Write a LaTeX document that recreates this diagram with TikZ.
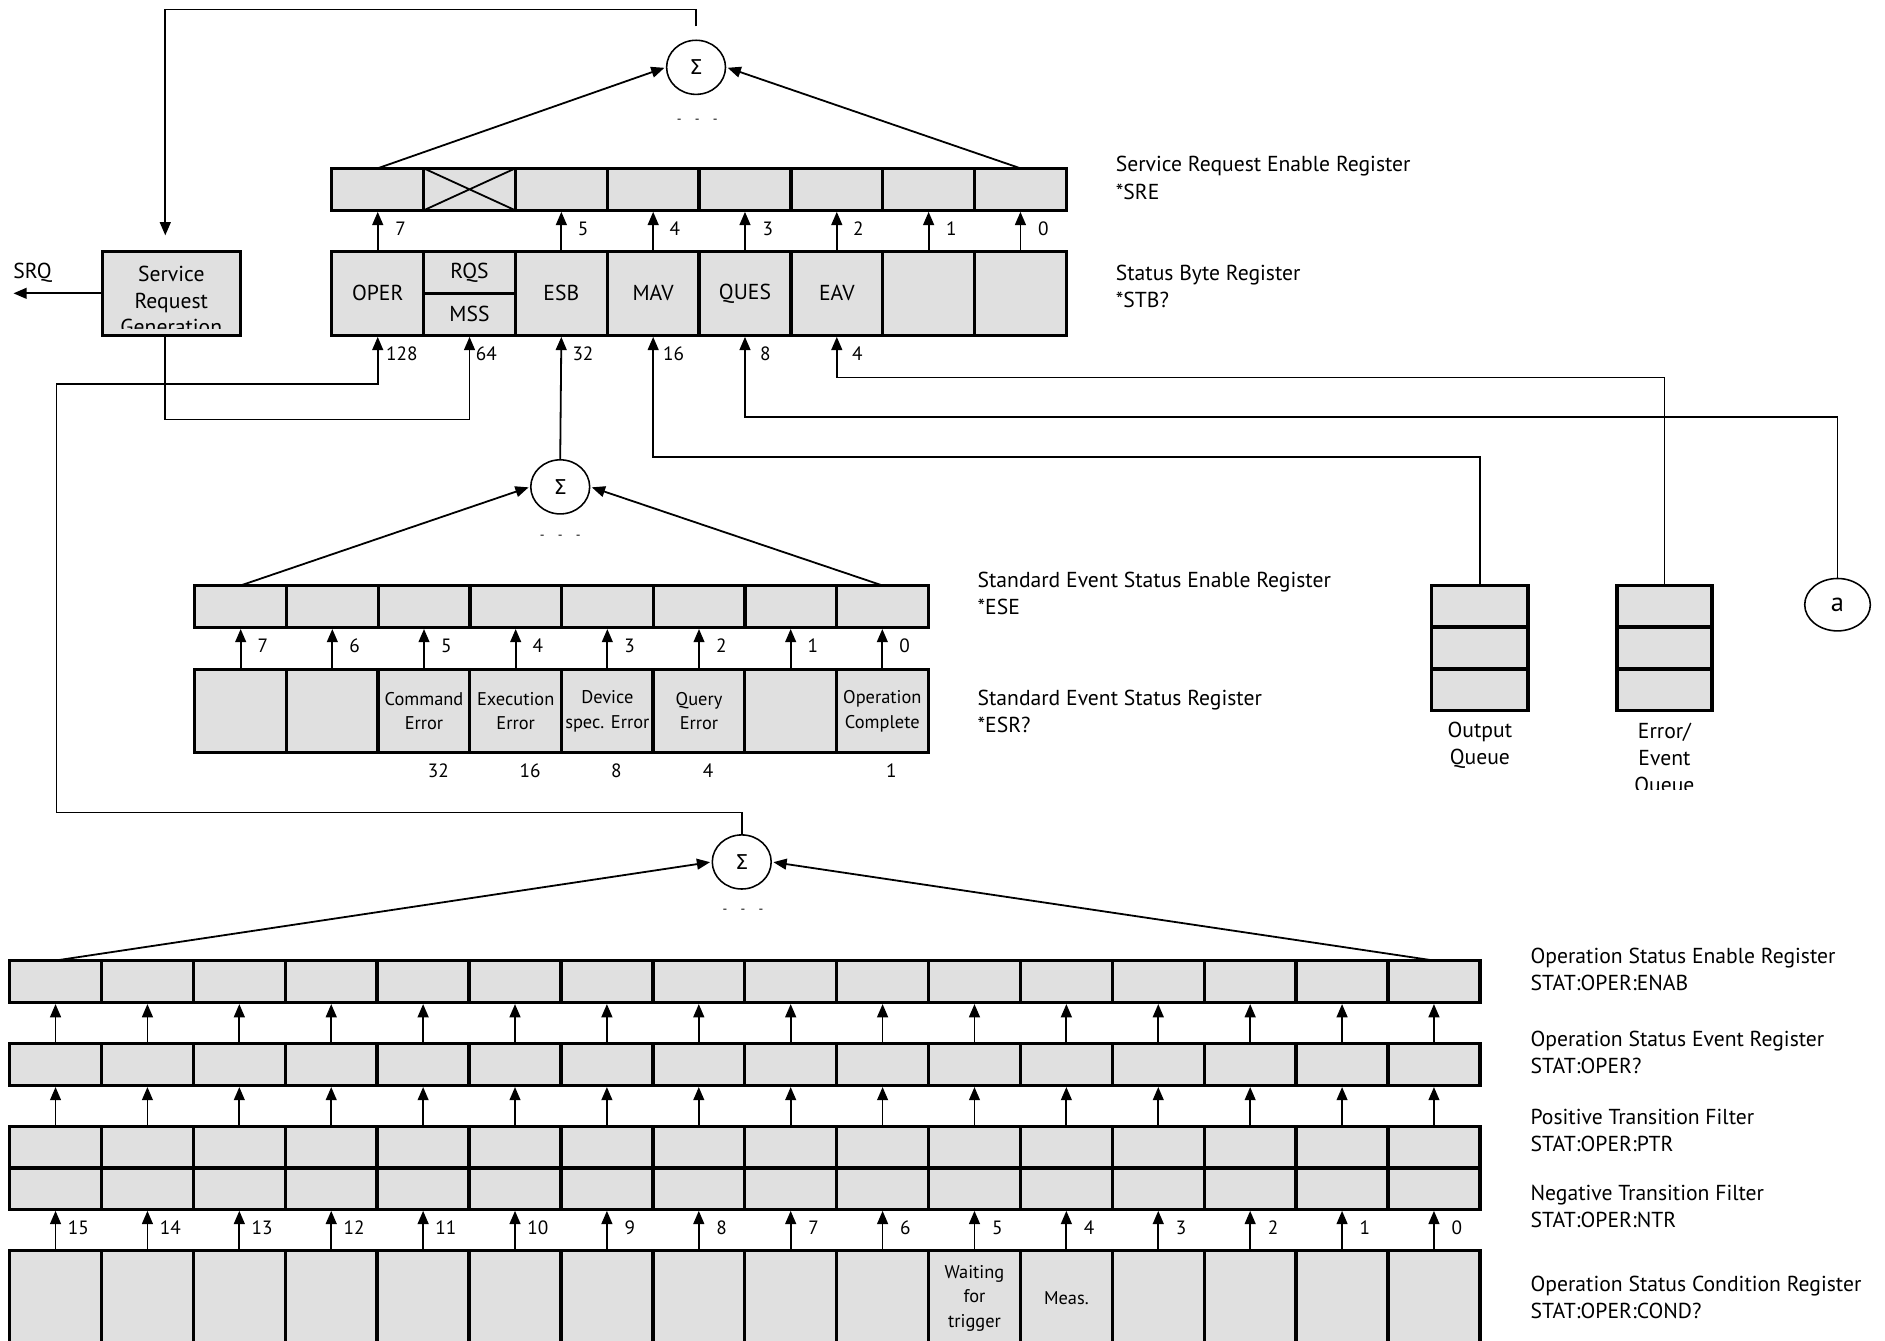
\documentclass[tikz,border=0pt]{standalone}
\usepackage{fontspec}
\setmainfont{PT Sans}
\newfontfamily\sigmafont{DejaVu Sans}
\usetikzlibrary{arrows.meta,calc,positioning,shapes.geometric}
\definecolor{cellgray}{RGB}{224,224,224}
\newcommand\regfont{\fontsize{18}{22}\selectfont}
\newcommand\smallfont{\fontsize{15.3}{20.5}\selectfont}
\newcommand\bitfont{\fontsize{16}{18}\selectfont}
\newcommand\lblfont{\fontsize{18}{22.5}\selectfont}

\tikzset{
  cell/.style={draw,line width=2.8pt,fill=cellgray,inner sep=0pt,outer sep=0pt,anchor=north west,
    minimum width=76.4pt,minimum height=35pt,align=center,font=\regfont},
  conn/.style={line width=1.5pt},
  bitarrow/.style={conn,-{Triangle[length=11pt,width=9pt]},shorten >=1.2pt},
  sumnode/.style={ellipse,draw,line width=1.3pt,minimum width=49pt,minimum height=45pt,inner sep=0pt,
    font=\sigmafont\fontsize{17}{19}\selectfont},
  reglabel/.style={anchor=west,align=left,inner sep=0pt,font=\lblfont},
  lbl/.style={inner sep=0pt,font=\lblfont},
  bitlabel/.style={inner sep=0pt,font=\bitfont},
  dotlabel/.style={inner sep=0pt,font=\fontsize{11}{12}\selectfont},
}

\begin{document}
\begin{tikzpicture}[x=1pt,y=-1pt]
  \useasboundingbox (0,0) rectangle (1568,1115);
  \clip (0,0) rectangle (1568,1115);

  % service request enable register and status byte
  \foreach \b in {0,...,7}
    \node[cell] (sre\b) at ({276+(7-\b)*76.375},140) {};
  \draw[conn] (sre6.north west) -- (sre6.south east) (sre6.north east) -- (sre6.south west);
  \foreach \b/\txt in {7/OPER,5/ESB,4/MAV,3/QUES,2/EAV,1/{},0/{}}
    \node[cell,minimum height=70pt] (stb\b) at ({276+(7-\b)*76.375},209) {\txt};
  \node[cell] (rqs) at (352.375,209) {RQS};
  \node[cell] (mss) at (352.375,244) {MSS};
  \foreach \b/\dx in {7/19,5/18,4/18,3/19,2/18,1/19,0/19} {
    \draw[bitarrow] (stb\b.north) -- (sre\b.south);
    \node[bitlabel] (srelbl\b) at ($(sre\b.south)+(\dx,15)$) {\b};
  }
  \node[sumnode] (sigS) at (579,56) {Σ};
  \draw[bitarrow] (sre7.north) -- (sigS.west);
  \draw[bitarrow] (sre0.north) -- (sigS.east);
  \node[dotlabel] (dotsS) at (580,101) {-\quad-\quad-};

  \node[reglabel] (lblsre) at (928,148) {Service Request Enable Register\\*SRE};
  \node[reglabel] (lblstb) at (928,238.5) {Status Byte Register\\*STB?};

  % service request generation
  \node[cell,minimum width=115pt,minimum height=70pt,
    path picture={\clip (path picture bounding box.north west) rectangle ([yshift=6pt]path picture bounding box.south east);
      \node[anchor=center,draw=none,fill=none,inner sep=0pt,align=center,font=\regfont]
      at ([yshift=-6pt]path picture bounding box.center) {Service\\Request\\Generation};}] (srg) at (85,209) {};
  \coordinate (srq) at (10,244);
  \draw[bitarrow] (srg.west) -- (srq);
  \node[lbl] (srqlbl) at (27,227) {SRQ};
  \draw[bitarrow] ([yshift=11pt]sigS.north) -- ++(0,-14) -| ([xshift=-5pt,yshift=12pt]srg.north);
  \draw[bitarrow] ([xshift=-5pt]srg.south) -- ++(0,70) -| (mss.south);

  % values of the status byte bits
  \node[bitlabel] (v128) at ($(stb7.south)+(20,15)$) {128};
  \node[bitlabel] (v64) at ($(mss.south)+(14,15)$) {64};
  \node[bitlabel] (v32) at ($(stb5.south)+(18,15)$) {32};
  \node[bitlabel] (v16) at ($(stb4.south)+(17,15)$) {16};
  \node[bitlabel] (v8) at ($(stb3.south)+(17,15)$) {8};
  \node[bitlabel] (v4) at ($(stb2.south)+(17,15)$) {4};

  % standard event status registers
  \foreach \b in {0,...,7}
    \node[cell] (ese\b) at ({162+(7-\b)*76.25},487) {};
  \foreach \b/\txt in {7/{},6/{},5/{Command\\Error},4/{Execution\\Error},3/{Device\\spec. Error},
      2/{Query\\Error},1/{},0/{Operation\\Complete}}
    \node[cell,minimum height=69pt,font=\smallfont] (esr\b) at ({162+(7-\b)*76.25},557) {\txt};
  \foreach \b in {0,...,7} {
    \draw[bitarrow] (esr\b.north) -- (ese\b.south);
    \node[bitlabel] (eselbl\b) at ($(ese\b.south)+(18.5,15)$) {\b};
  }
  \foreach \b/\val in {5/32,4/16,3/8,2/4,0/1}
    \node[bitlabel,anchor=west] (esrval\b) at ($(esr\b.south)+(3,15)$) {\val};
  \node[sumnode] (sigE) at (466,405) {Σ};
  \draw[bitarrow] (ese7.north) -- (sigE.west);
  \draw[bitarrow] (ese0.north) -- (sigE.east);
  \node[dotlabel] (dotsE) at (466,447) {-\quad-\quad-};
  \draw[bitarrow] (sigE.north) -- (stb5.south);

  \node[reglabel] (lblese) at (813,494) {Standard Event Status Enable Register\\*ESE};
  \node[reglabel] (lblesr) at (813,592) {Standard Event Status Register\\*ESR?};

  % queues
  \foreach \i in {1,2,3} {
    \node[cell,minimum width=80pt,minimum height=34.7pt] (outq\i) at (1191,{487+(\i-1)*34.7}) {};
    \node[cell,minimum width=79pt,minimum height=34.7pt] (errq\i) at (1345,{487+(\i-1)*34.7}) {};
  }
  \node[lbl,align=center] (outqlbl) at ($(outq3.south)+(0,29)$) {Output\\Queue};
  \begin{scope}
    \clip ($(errq3.south west)+(-40,2)$) rectangle ($(errq3.south east)+(40,66)$);
    \node[lbl,align=center] (errqlbl) at ($(errq3.south)+(0,41)$) {Error/\\Event\\Queue};
  \end{scope}
  \node[ellipse,draw,line width=1.3pt,minimum width=54.6pt,minimum height=43.6pt,inner sep=0pt,
    font=\fontsize{22}{26}\selectfont] (anode) at (1528.5,503) {a};
  \draw[bitarrow] (outq1.north) -- ++(0,-107) -| (stb4.south);
  \draw[bitarrow] (anode.north) -- ++(0,-134) -| (stb3.south);
  \draw[bitarrow] (errq1.north) -- ++(0,-173) -| (stb2.south);

  % operation status registers
  \foreach \b in {0,...,15} {
    \pgfmathsetmacro\xx{8+(15-\b)*76.44}
    \node[cell] (oen\b) at (\xx,799) {};
    \node[cell] (oev\b) at (\xx,868) {};
    \node[cell,minimum height=34.5pt] (ptr\b) at (\xx,937) {};
    \node[cell,minimum height=34.5pt] (ntr\b) at (\xx,971.5) {};
    \node[cell,minimum height=80pt] (cnd\b) at (\xx,1040) {};
    \draw[bitarrow] (oev\b.north) -- (oen\b.south);
    \draw[bitarrow] (ptr\b.north) -- (oev\b.south);
    \draw[bitarrow] (cnd\b.north) -- (ntr\b.south);
    \node[bitlabel] (oplbl\b) at ($(ntr\b.south)+(19,15)$) {\b};
  }
  \node[align=center,inner sep=0pt,font=\smallfont] (waittxt) at (cnd5) {Waiting\\for\\trigger};
  \node[inner sep=0pt,font=\smallfont] (meastxt) at (cnd4) {Meas.};
  \node[sumnode] (sigO) at (617,717) {Σ};
  \draw[bitarrow] (oen15.north) -- (sigO.west);
  \draw[bitarrow] (oen0.north) -- (sigO.east);
  \node[dotlabel] (dotsO) at (618,758) {-\quad-\quad-};
  \draw[bitarrow] (sigO.north) -- ++(0,-18) -| ++(-570,-356.5) -| (stb7.south);

  \node[reglabel] (lbloen) at (1273,806.5) {Operation Status Enable Register\\STAT:OPER:ENAB};
  \node[reglabel] (lbloev) at (1273,875.5) {Operation Status Event Register\\STAT:OPER?};
  \node[reglabel] (lblptr) at (1273,940.5) {Positive Transition Filter\\STAT:OPER:PTR};
  \node[reglabel] (lblntr) at (1273,1003.5) {Negative Transition Filter\\STAT:OPER:NTR};
  \node[reglabel] (lblcnd) at (1273,1079.5) {Operation Status Condition Register\\STAT:OPER:COND?};
\end{tikzpicture}
\end{document}
